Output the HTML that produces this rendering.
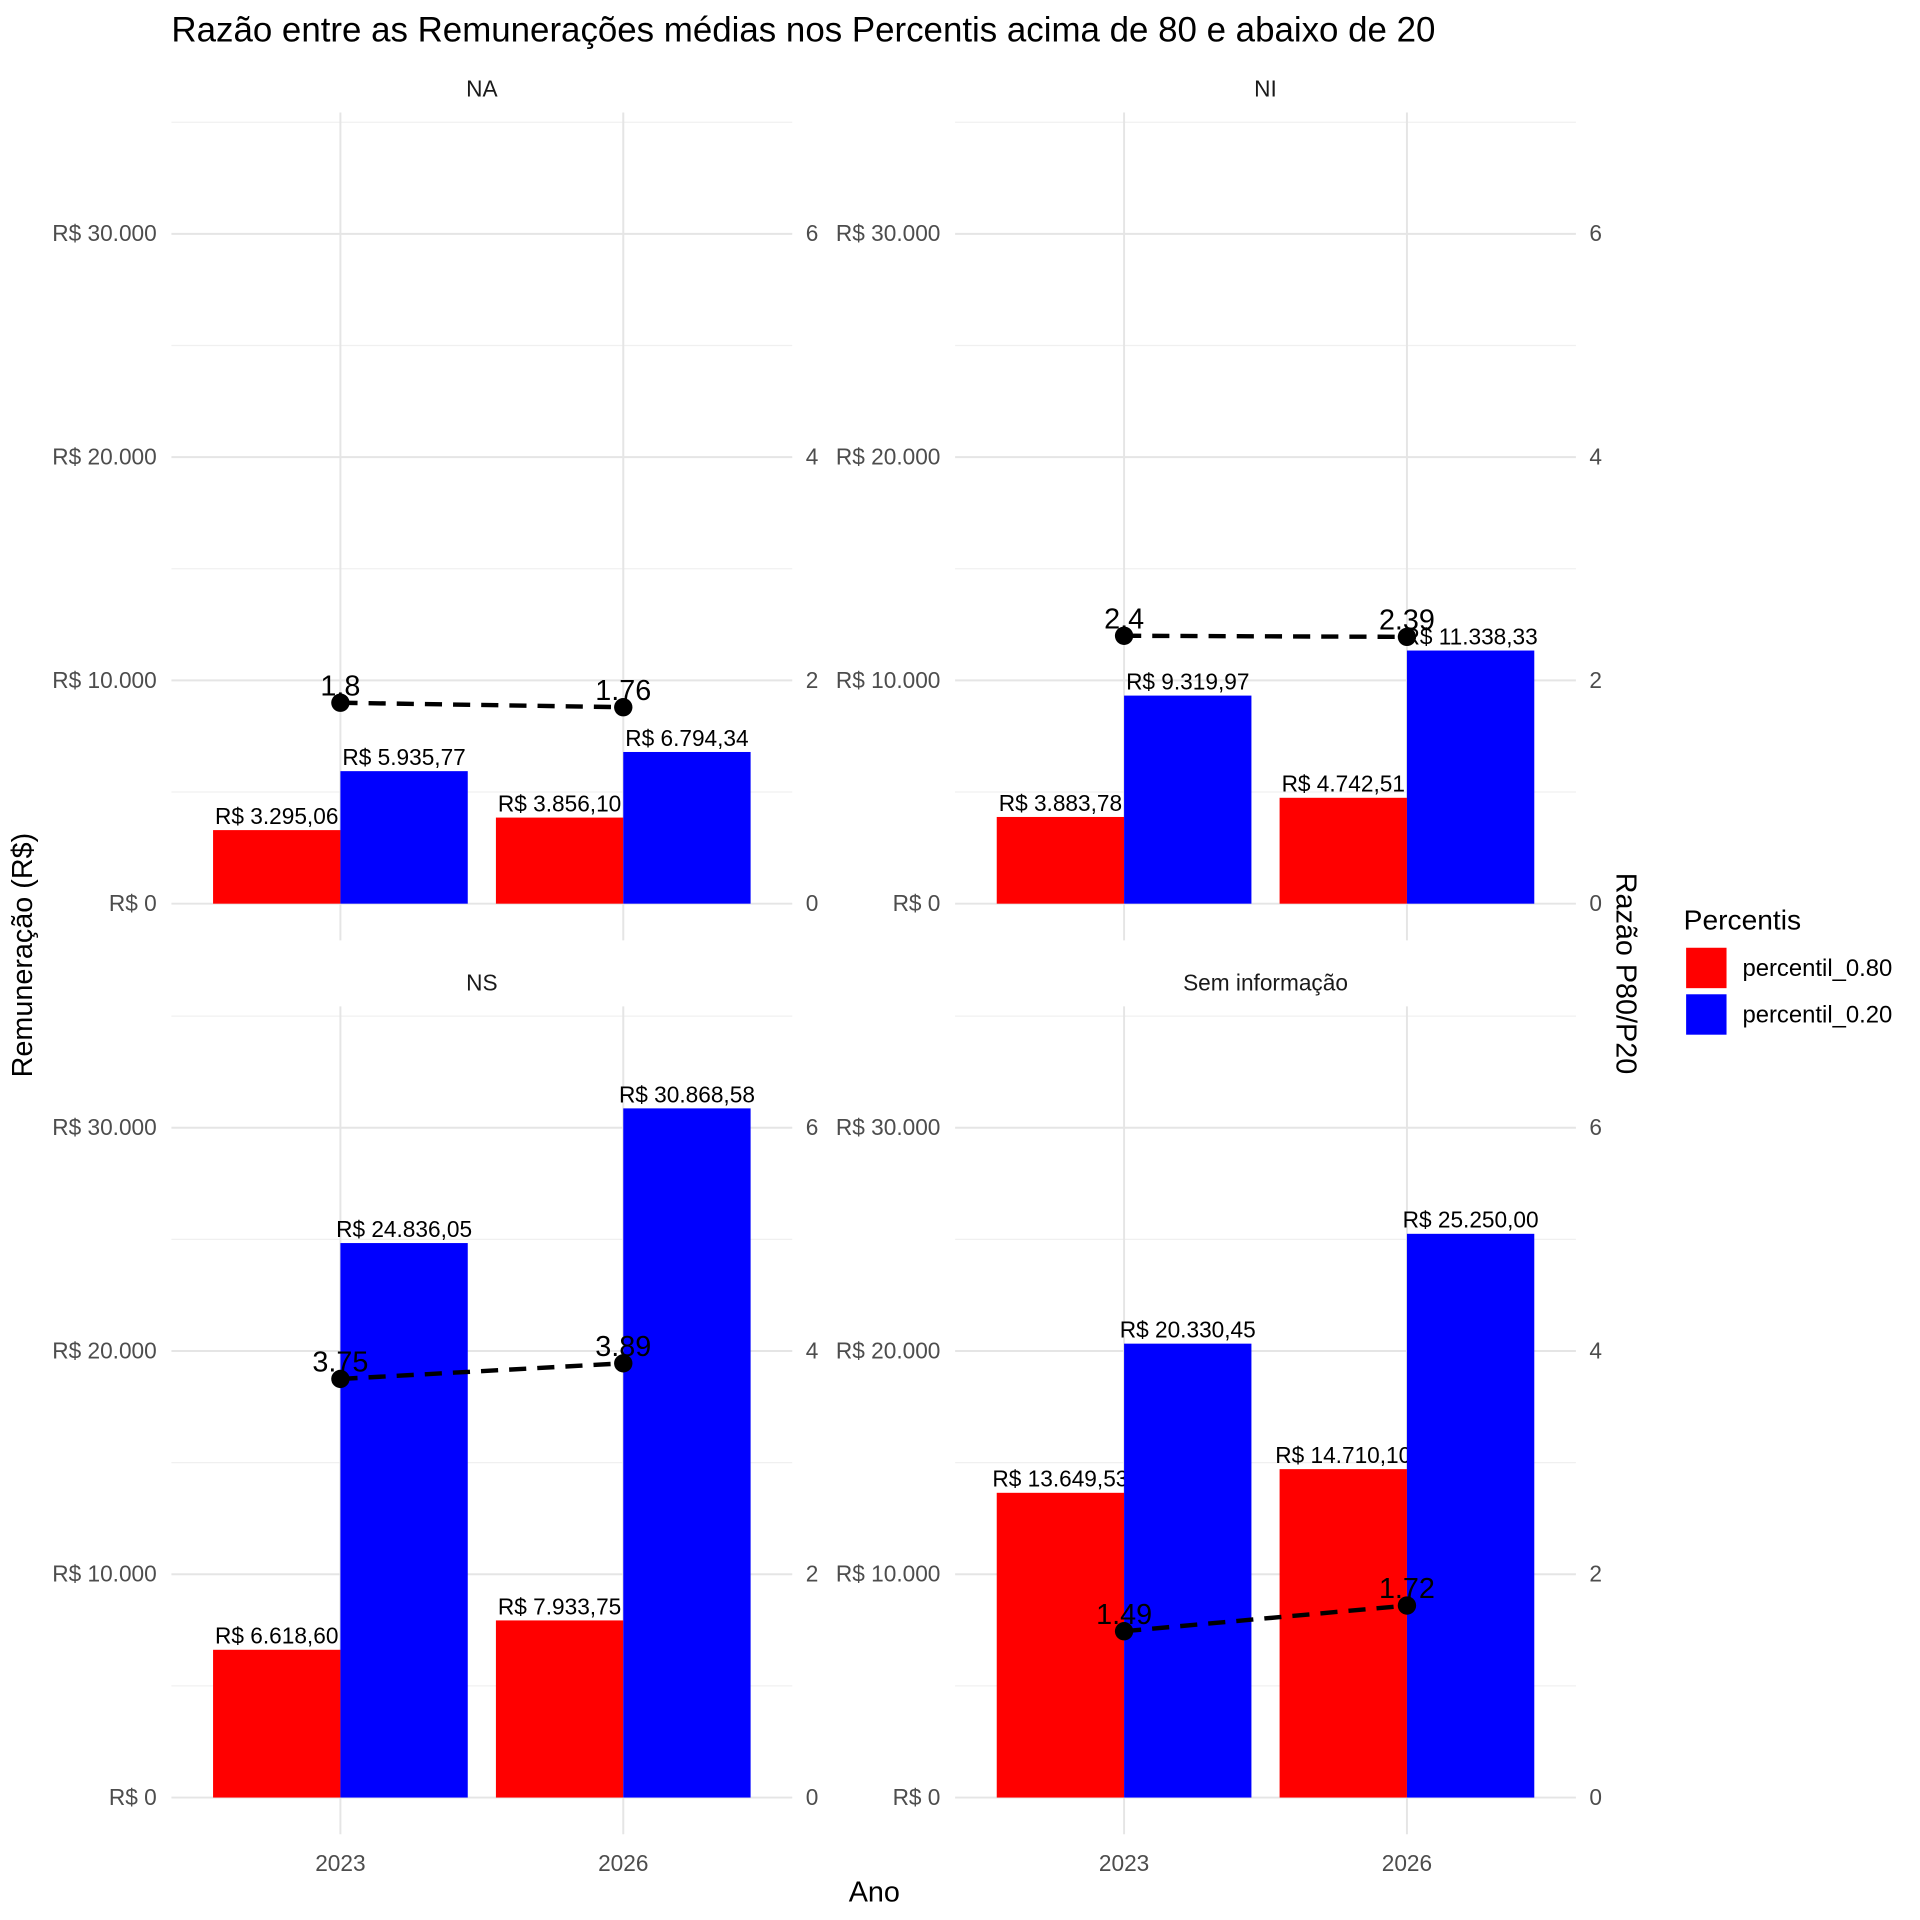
<!DOCTYPE html>
<html><head><meta charset="utf-8">
<style>
html,body{margin:0;padding:0;background:#fff;}
svg{display:block;font-family:"Liberation Sans",Arial,sans-serif;}
</style></head>
<body>
<svg id="chart" width="1920" height="1920" viewBox="0 0 1568 1568" xmlns="http://www.w3.org/2000/svg">
<rect width="1568" height="1568" fill="#fff"/>
<text x="140" y="34" font-size="28.5" fill="#000">Razão entre as Remunerações médias nos Percentis acima de 80 e abaixo de 20</text>
<text transform="translate(26,780) rotate(-90)" text-anchor="middle" font-size="23.5">Remuneração (R$)</text>
<text transform="translate(1320,795) rotate(90)" text-anchor="middle" font-size="23.5">Razão P80/P20</text>
<text x="714" y="1553" text-anchor="middle" font-size="23.5">Ano</text>
<g>
<text x="1375" y="759" font-size="23">Percentis</text>
<rect x="1377" y="774" width="33" height="33" fill="#ff0000"/>
<text x="1423" y="797" font-size="19.5">percentil_0.80</text>
<rect x="1377" y="812" width="33" height="33" fill="#0000ff"/>
<text x="1423" y="835" font-size="19.5">percentil_0.20</text>
</g>
<g id="panels"></g>
</svg>
<script>
const panelNames = ["NA", "NI", "NS", "Sem informação"];
const years = ["2023", "2026"];
const p80Values = [[3295.06, 3856.10], [3883.78, 4742.51], [6618.60, 7933.75], [13649.53, 14710.10]];
const p20Values = [[5935.77, 6794.34], [9319.97, 11338.33], [24836.05, 30868.58], [20330.45, 25250.00]];
const ratioValues = [[1.8, 1.76], [2.4, 2.39], [3.75, 3.89], [1.49, 1.72]];
const leftTicks = [0, 10000, 20000, 30000];
const rightTicks = [0, 2, 4, 6];

const NS = "http://www.w3.org/2000/svg";
const root = document.getElementById("panels");
function mk(tag, attrs, parent) {
  const e = document.createElementNS(NS, tag);
  for (const k in attrs) e.setAttribute(k, attrs[k]);
  (parent || root).appendChild(e);
  return e;
}
function fmtBRL(v) {
  const parts = v.toFixed(2).split(".");
  const int = parts[0].replace(/\B(?=(\d{3})+(?!\d))/g, ".");
  return "R$ " + int + "," + parts[1];
}
const pxW = 507, pxOff = [140, 780], pyBase = [738, 1468];
const pxPerUnit = 182.33 / 10000;

panelNames.forEach((name, p) => {
  const x0 = pxOff[p % 2], yb = pyBase[Math.floor(p / 2)];
  const yS = v => yb - v * pxPerUnit;
  const yR = r => yS(r * 5000);
  const xC = i => x0 + 138 + i * 231;
  const g = mk("g", {});
  
  
  for (let v = 0; v <= 35000; v += 5000) {
    const l = mk("line", {x1: x0, x2: x0 + pxW, y1: yS(v), y2: yS(v), stroke: v % 10000 === 0 ? "#e5e5e5" : "#f0f0f0", "stroke-width": v % 10000 === 0 ? 1.6 : 1}, g);
    
    
  }
  years.forEach((yr, i) => {
    const l = mk("line", {x1: xC(i), x2: xC(i), y1: yS(35000) - 8, y2: yb + 30, stroke: "#e5e5e5", "stroke-width": 1.6}, g);
    
    
  });
  const st = mk("text", {x: x0 + pxW / 2, y: yS(35000) - 21, "text-anchor": "middle", "font-size": 18.5, fill: "#1a1a1a"}, g);
  st.textContent = name;
  
  
  leftTicks.forEach(v => {
    const t = mk("text", {x: x0 - 12, y: yS(v) + 6, "text-anchor": "end", "font-size": 18.5, fill: "#4d4d4d"}, g);
    t.textContent = v === 0 ? "R$ 0" : "R$ " + (v / 1000) + ".000";
    
    
  });
  rightTicks.forEach(r => {
    const t = mk("text", {x: x0 + pxW + 11, y: yR(r) + 6, "text-anchor": "start", "font-size": 18.5, fill: "#4d4d4d"}, g);
    t.textContent = r;
    
    
  });
  if (p >= 2) years.forEach((yr, i) => {
    const t = mk("text", {x: xC(i), y: yb + 60, "text-anchor": "middle", "font-size": 18.5, fill: "#4d4d4d"}, g);
    t.textContent = yr;
    
    
  });
  years.forEach((yr, i) => {
    [[p80Values[p][i], "#ff0000", -104, "bar-p80"], [p20Values[p][i], "#0000ff", 0, "bar-p20"]].forEach(([v, c, off, nm]) => {
      const b = mk("rect", {x: xC(i) + off, y: yS(v), width: 104, height: yb - yS(v), fill: c}, g);
      
      
      const t = mk("text", {x: xC(i) + off + 52, y: yS(v) - 5, "text-anchor": "middle", "font-size": 18.5, fill: "#000"}, g);
      t.textContent = fmtBRL(v);
      
      
    });
  });
  const ln = mk("line", {x1: xC(0), y1: yR(ratioValues[p][0]), x2: xC(1), y2: yR(ratioValues[p][1]), stroke: "#000", "stroke-width": 3.6, "stroke-dasharray": "14,9"}, g);
  
  
  years.forEach((yr, i) => {
    const r = ratioValues[p][i];
    const c = mk("circle", {cx: xC(i), cy: yR(r), r: 7.5, fill: "#000"}, g);
    
    
    const t = mk("text", {x: xC(i), y: yR(r) - 6, "text-anchor": "middle", "font-size": 23.5, fill: "#000"}, g);
    t.textContent = String(r);
    
    
  });
});
</script>
</body></html>
